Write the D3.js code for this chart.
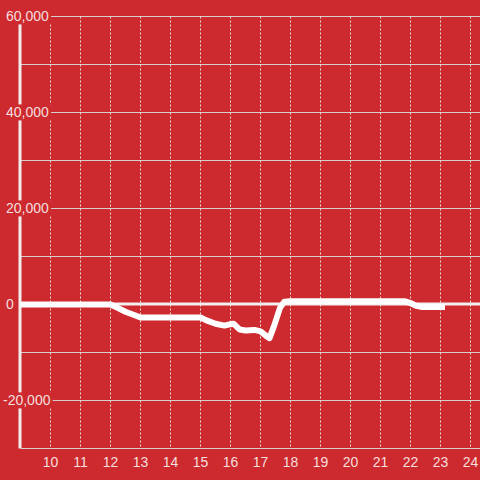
<!DOCTYPE html>
<html>
<head>
<meta charset="utf-8">
<script src="https://cdn.jsdelivr.net/npm/d3@7"></script>
<style>
  body { margin: 0; background: #cd2a2f; }
  text { font-family: "Liberation Sans", Arial, sans-serif; font-size: 14px; fill: #f5dede; }
</style>
</head>
<body>
<script>
var Width = 480;
var Height = 480;
var Bg = "#cd2a2f";

// hours of day and value at that time
var hours  = [9.0, 12.0, 12.17, 12.5, 12.83, 13.0, 15.0, 15.2, 15.5, 15.8, 16.0, 16.1, 16.3, 16.5, 16.8, 17.0, 17.2, 17.3, 17.45, 17.65, 17.8, 18.0, 21.8, 22.0, 22.2, 22.35, 23.15];
var values = [0, 0, -500, -1500, -2300, -2700, -2700, -3300, -4000, -4400, -4100, -4000, -5200, -5400, -5300, -5600, -6600, -7000, -4500, -700, 600, 700, 700, 300, -300, -500, -500];

var xTicks = [10, 11, 12, 13, 14, 15, 16, 17, 18, 19, 20, 21, 22, 23, 24];
var yTicks = [-20000, 0, 20000, 40000, 60000];
var yGrid  = [-30000, -10000, 10000, 30000, 50000, 40000, 20000, -20000, 60000];

function main () {
  var svg = d3.select("body").append("svg")
    .attr("width", Width)
    .attr("height", Height)
    .style("display", "block");

  svg.append("rect").attr("width", Width).attr("height", Height).attr("fill", Bg);

  var xScale = d3.scaleLinear().domain([9, 24.3]).range([20.5, 479.5]);
  var yScale = d3.scaleLinear().domain([-30000, 60000]).range([448.5, 16.5]);

  // horizontal grid
  svg.selectAll("line.hgrid")
    .data(yGrid)
    .enter().append("line")
    .attr("class", "hgrid")
    .attr("x1", 21).attr("x2", Width)
    .attr("y1", function(d) { return yScale(d); })
    .attr("y2", function(d) { return yScale(d); })
    .attr("stroke", "#d4d0d0")
    .attr("stroke-width", 1);

  // vertical dotted grid
  svg.selectAll("line.vgrid")
    .data(xTicks)
    .enter().append("line")
    .attr("class", "vgrid")
    .attr("x1", function(d) { return xScale(d); })
    .attr("x2", function(d) { return xScale(d); })
    .attr("y1", yScale(60000)).attr("y2", yScale(-30000) - 2)
    .attr("stroke", "#e4dcdc")
    .attr("stroke-width", 1)
    .attr("stroke-dasharray", "2,2");

  // zero line
  svg.append("line")
    .attr("x1", 21).attr("x2", Width)
    .attr("y1", yScale(0) - 0.5).attr("y2", yScale(0) - 0.5)
    .attr("stroke", "#f4eeee")
    .attr("stroke-width", 3);

  // y axis bar
  svg.append("line")
    .attr("x1", 20).attr("x2", 20)
    .attr("y1", yScale(60000)).attr("y2", yScale(-30000))
    .attr("stroke", "#efeded")
    .attr("stroke-width", 3);

  // data line
  var pts = hours.map(function(h, i) { return [h, values[i]]; });
  var line = d3.line()
    .x(function(d) { return xScale(d[0]); })
    .y(function(d) { return yScale(d[1]); });
  svg.append("path")
    .datum(pts)
    .attr("d", line)
    .attr("fill", "none")
    .attr("stroke", "#ffffff")
    .attr("stroke-width", 6)
    .attr("stroke-linejoin", "round");

  // y labels with background masks
  var yl = svg.selectAll("g.ylab")
    .data(yTicks)
    .enter().append("g")
    .attr("class", "ylab");
  yl.append("text")
    .attr("x", function(d) { return d < 0 ? 3 : 6; })
    .attr("y", function(d) { return yScale(d); })
    .attr("dy", "0.35em")
    .text(function(d) { return d3.format(",")(d).replace("−", "-"); });
  yl.each(function() {
    var g = d3.select(this);
    var b = g.select("text").node().getBBox();
    g.insert("rect", "text")
      .attr("x", b.x - 1).attr("y", b.y)
      .attr("width", b.width + 3).attr("height", b.height)
      .attr("fill", Bg);
  });

  // x labels
  svg.selectAll("text.xlab")
    .data(xTicks)
    .enter().append("text")
    .attr("class", "xlab")
    .attr("x", function(d) { return xScale(d); })
    .attr("y", 467)
    .attr("text-anchor", "middle")
    .text(function(d) { return d; });
}

main();
</script>
</body>
</html>
